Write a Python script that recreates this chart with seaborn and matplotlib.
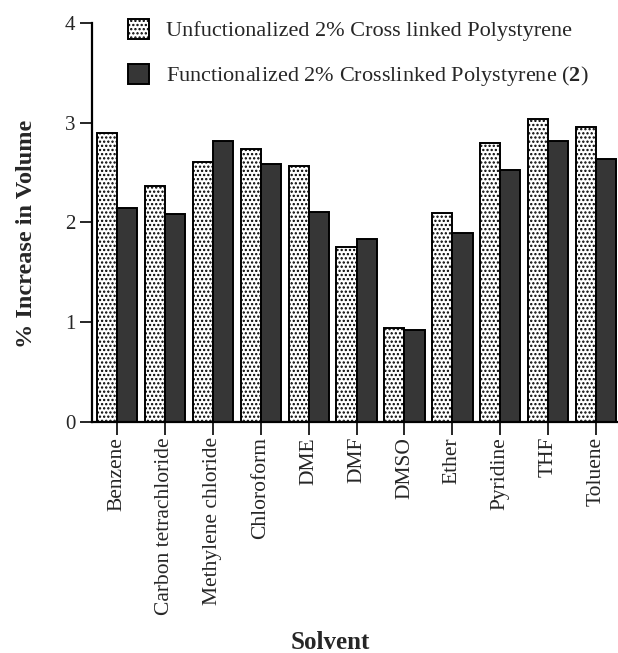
"""Swelling of polystyrene resins in different solvents."""

import pandas as pd
import matplotlib
matplotlib.use("Agg")
import matplotlib.pyplot as plt
from matplotlib.patches import Patch
import seaborn as sns

solvents = ["Benzene", "Carbon tetrachloride", "Methylene chloride", "Chloroform",
            "DME", "DMF", "DMSO", "Ether", "Pyridine", "THF", "Toluene"]
unfunctionalized = [2.90, 2.36, 2.60, 2.74, 2.56, 1.75, 0.94, 2.09, 2.80, 3.04, 2.96]
functionalized = [2.14, 2.08, 2.82, 2.58, 2.10, 1.83, 0.92, 1.89, 2.52, 2.82, 2.64]
series = ["Unfuctionalized 2% Cross linked Polystyrene",
          "Functionalized 2% Crosslinked Polystyrene ($\\mathbf{2}$)"]

df = pd.DataFrame({
    "Solvent": solvents * 2,
    "value": unfunctionalized + functionalized,
    "series": [series[0]] * len(solvents) + [series[1]] * len(solvents),
})

sns.set_style("white")
plt.rcParams["font.family"] = ["Liberation Serif", "DejaVu Serif"]
plt.rcParams["mathtext.fontset"] = "custom"
plt.rcParams["mathtext.bf"] = "Liberation Serif:bold"
plt.rcParams["mathtext.rm"] = "Liberation Serif"
plt.rcParams["hatch.linewidth"] = 1.1
plt.rcParams["hatch.color"] = "#444444"

fig = plt.figure(figsize=(6.18, 6.53), dpi=100)
ax = fig.add_axes([0.149, 0.354, 0.849, 0.611])

sns.barplot(data=df, x="Solvent", y="value", hue="series",
            palette=["white", "#363636"], width=0.84, ax=ax,
            edgecolor="black", linewidth=1.4, legend=False)

for bar in ax.containers[0]:
    bar.set_hatch("....")

ax.set_ylim(0, 4)
ax.set_xlim(-0.52, len(solvents) - 0.57)
ax.set_yticks([0, 1, 2, 3, 4])
ax.tick_params(axis="y", direction="out", length=9, width=1.4, labelsize=15, pad=3, left=True)
ax.tick_params(axis="x", direction="out", length=9, width=1.4, labelsize=15.5, pad=2, bottom=True)
plt.setp(ax.get_xticklabels(), rotation=90)
sns.despine(ax=ax)
for side in ["left", "bottom"]:
    ax.spines[side].set_linewidth(1.6)
    ax.spines[side].set_color("black")

ax.set_ylabel("% Increase in Volume", fontsize=17.5, fontweight="bold")
ax.yaxis.set_label_coords(-0.105, 0.47)
ax.set_xlabel("Solvent", fontsize=18, fontweight="bold")
ax.xaxis.set_label_coords(0.455, -0.525)

handles = [Patch(facecolor="white", edgecolor="black", hatch="....", linewidth=1.4),
           Patch(facecolor="#363636", edgecolor="black", linewidth=1.4)]
ax.legend(handles, series, loc="upper left", bbox_to_anchor=(0.03, 1.06),
          frameon=False, fontsize=16, handlelength=0.95, handleheight=1.0,
          labelspacing=1.0, handletextpad=0.75)

fig.savefig("out.png", dpi=100)
